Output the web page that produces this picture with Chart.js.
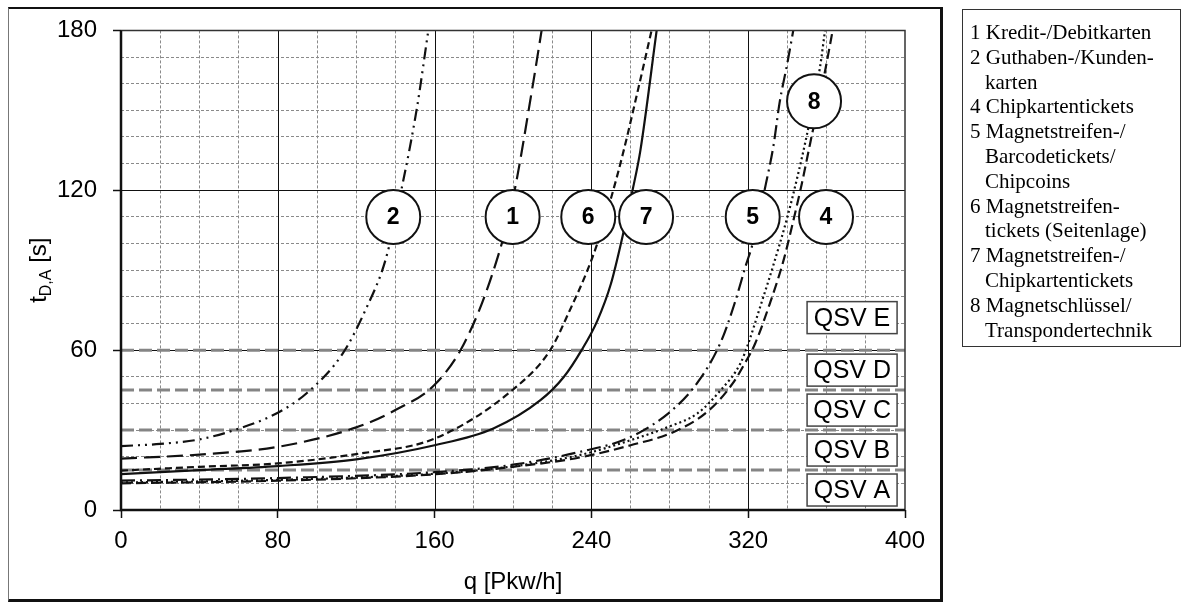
<!DOCTYPE html>
<html>
<head>
<meta charset="utf-8">
<script src="https://cdn.jsdelivr.net/npm/chart.js@4.4.0/dist/chart.umd.min.js"></script>
<style>
  html, body { margin: 0; padding: 0; background: #fff; }
  #wrap { position: relative; width: 1183px; height: 608px; overflow: hidden; }
  #frame {
    position: absolute; left: 8px; top: 7px; width: 931px; height: 590px;
    border-left: 1px solid #777; border-top: 2px solid #111;
    border-right: 3px solid #111; border-bottom: 3px solid #111;
  }
  #legend {
    position: absolute; left: 962px; top: 9px; width: 210px; height: 326px;
    border: 1px solid #333; padding: 10px 0 0 7px;
    font-family: "Liberation Serif", "Times New Roman", serif;
    font-size: 21px; line-height: 24.8px; color: #000;
  }
  #legend div { padding-left: 15px; text-indent: -15px; white-space: nowrap; }
  canvas { position: absolute; left: 0; top: 0; }
</style>
</head>
<body>
<div id="wrap">
  <div id="frame"></div>
  <canvas id="chart" width="1183" height="608"></canvas>
  <div id="legend">
    <div>1 Kredit-/Debitkarten</div>
    <div>2 Guthaben-/Kunden-<br>karten</div>
    <div>4 Chipkartentickets</div>
    <div>5 Magnetstreifen-/<br>Barcodetickets/<br>Chipcoins</div>
    <div>6 Magnetstreifen-<br>tickets (Seitenlage)</div>
    <div>7 Magnetstreifen-/<br>Chipkartentickets</div>
    <div>8 Magnetschlüssel/<br>Transpondertechnik</div>
  </div>
</div>
<script>
// curves: q [Pkw/h] -> t [s]
const q1 = [0, 40, 80, 120, 140, 160, 175, 190, 200, 210, 214.6];
const t1 = [19.3, 20.8, 23.7, 31, 37.5, 47, 62.4, 89.8, 117, 159, 180];
const q2 = [0, 20, 40, 60, 80, 95, 113, 125, 135, 143, 151, 156.8];
const t2 = [24, 24.8, 26.5, 30.5, 36.5, 44, 58.6, 75.5, 94, 120, 151, 180];
const q4 = [0, 80, 160, 200, 234, 260, 282, 299, 312, 319, 323.5, 331, 338, 343, 347.3, 351.5, 359.2, 363.1];
const t4 = [10, 11, 13.4, 16.2, 19.7, 24.3, 29.3, 36.8, 47.4, 56, 62.4, 77.4, 93.6, 108.5, 122.3, 137.2, 164.7, 180];
const q5 = [0, 80, 160, 200, 234, 260, 282, 295, 306, 313, 319, 322, 329, 333, 336, 340, 343];
const t5 = [11, 12, 14.2, 17, 21.8, 27.4, 38, 48.7, 63, 77.4, 92.3, 99.2, 122.3, 137.2, 152.8, 167.8, 180];
const q6 = [0, 40, 80, 120, 160, 200, 219, 229, 238, 243, 250, 256, 265, 270.7];
const t6 = [14.8, 16.2, 17.5, 21, 26.8, 45.2, 60, 75, 90, 100, 117, 133.5, 161.6, 180];
const q7 = [0, 40, 80, 120, 160, 190, 214, 226, 235, 243, 250, 256, 261, 265, 273.3];
const t7 = [13.5, 15, 16.5, 19, 24.3, 30.6, 41.2, 50, 60, 71, 85, 103, 120, 135, 180];
const q8 = [0, 80, 160, 200, 234, 260, 280, 294, 306, 316, 320, 326, 333, 340, 345, 350, 356.6, 359.2];
const t8 = [10.3, 11.3, 13.6, 16.4, 20.6, 26.2, 31.4, 36.2, 45, 55, 62.4, 76, 92.3, 110, 124.7, 141, 166, 180];

// level-of-service limits and their labels
const qsvLimits = [15, 30, 45, 60];
const qsvNames = ['QSV A', 'QSV B', 'QSV C', 'QSV D', 'QSV E'];
const qsvLabelT = [7.5, 22.5, 37.5, 52.5, 72.2];
const qsvLabelQ = 373;

// numbered circle markers
const markNames = ['2', '1', '6', '7', '5', '4', '8'];
const markQ = [138.9, 199.8, 238.4, 267.9, 322.3, 359.7, 353.6];
const markT = [110, 110, 110, 110, 110, 110, 153.4];

const qRange = [0, 400];
const tRange = [0, 180];

const pts = (qs, ts) => qs.map((q, i) => ({ x: q, y: ts[i] }));

function curve(qs, ts, dash) {
    return {
        data: pts(qs, ts),
        showLine: true,
        borderColor: '#111',
        borderWidth: 2.2,
        borderDash: dash,
        pointRadius: 0,
        cubicInterpolationMode: 'monotone',
        order: 1
    };
}

const limitSets = qsvLimits.map(v => ({
    data: qRange.map(q => ({ x: q, y: v })),
    showLine: true,
    borderColor: '#858585',
    borderWidth: 3,
    borderDash: [13, 5],
    pointRadius: 0,
    order: 5
}));

const markSet = {
    data: pts(markQ, markT),
    showLine: false,
    pointRadius: 27,
    pointBackgroundColor: '#fff',
    pointBorderColor: '#111',
    pointBorderWidth: 2,
    clip: false,
    order: -1
};

const FONT = '"Liberation Sans", Arial, sans-serif';

const decor = {
    id: 'decor',
    beforeDatasetsDraw(chart) {
        const { ctx, chartArea: a, scales: { x, y } } = chart;
        ctx.save();
        ctx.strokeStyle = '#111';
        ctx.lineWidth = 1;
        ctx.beginPath();
        [80, 160, 240, 320].forEach(v => {
            const px = Math.round(x.getPixelForValue(v)) + 0.5;
            ctx.moveTo(px, a.top); ctx.lineTo(px, a.bottom);
        });
        [60, 120].forEach(v => {
            const py = Math.round(y.getPixelForValue(v)) + 0.5;
            ctx.moveTo(a.left, py); ctx.lineTo(a.right, py);
        });
        ctx.stroke();
        ctx.restore();
    },
    afterDatasetsDraw(chart) {
        const { ctx, chartArea: a, scales: { x, y } } = chart;
        ctx.save();

        // plot border
        ctx.strokeStyle = '#333';
        ctx.lineWidth = 1.5;
        ctx.beginPath();
        ctx.moveTo(a.left, a.top); ctx.lineTo(a.right, a.top); ctx.lineTo(a.right, a.bottom);
        ctx.stroke();
        ctx.strokeStyle = '#111';
        ctx.lineWidth = 2.5;
        ctx.beginPath();
        ctx.moveTo(a.left, a.top); ctx.lineTo(a.left, a.bottom); ctx.lineTo(a.right, a.bottom);
        ctx.stroke();

        // numbers in the circles
        const meta = chart.getDatasetMeta(chart.data.datasets.indexOf(markSet));
        ctx.fillStyle = '#000';
        ctx.font = 'bold 23px ' + FONT;
        ctx.textAlign = 'center';
        ctx.textBaseline = 'middle';
        meta.data.forEach((el, i) => ctx.fillText(markNames[i], el.x, el.y + 1));

        // QSV boxes
        ctx.font = '25px ' + FONT;
        qsvNames.forEach((name, i) => {
            const cx = x.getPixelForValue(qsvLabelQ);
            const cy = y.getPixelForValue(qsvLabelT[i]);
            ctx.fillStyle = '#fff';
            ctx.fillRect(cx - 45, cy - 16, 90, 32);
            ctx.strokeStyle = '#444';
            ctx.lineWidth = 1.5;
            ctx.strokeRect(cx - 45, cy - 16, 90, 32);
            ctx.fillStyle = '#000';
            ctx.fillText(name, cx, cy + 1);
        });

        // axis titles
        ctx.font = '24px ' + FONT;
        ctx.fillText('q [Pkw/h]', (a.left + a.right) / 2, 582);

        ctx.translate(46, (a.top + a.bottom) / 2);
        ctx.rotate(-Math.PI / 2);
        ctx.textAlign = 'left';
        ctx.textBaseline = 'alphabetic';
        const big = '24px ' + FONT, small = '16px ' + FONT;
        ctx.font = big; const w1 = ctx.measureText('t').width;
        ctx.font = small; const w2 = ctx.measureText('D,A').width;
        ctx.font = big; const w3 = ctx.measureText(' [s]').width;
        let sx = -(w1 + w2 + w3) / 2;
        ctx.font = big; ctx.fillText('t', sx, 0); sx += w1;
        ctx.font = small; ctx.fillText('D,A', sx, 5); sx += w2;
        ctx.font = big; ctx.fillText(' [s]', sx, 0);
        ctx.restore();
    }
};

const isMajor = (v, step) => Math.abs(v % step) < 1e-6;

new Chart(document.getElementById('chart'), {
    type: 'scatter',
    data: {
        datasets: [
            curve(q1, t1, [16, 7]),
            curve(q2, t2, [12, 5, 2, 5, 2, 5]),
            curve(q4, t4, [10, 5]),
            curve(q5, t5, [14, 5, 2, 5]),
            curve(q6, t6, [7, 4]),
            curve(q7, t7, []),
            curve(q8, t8, [2, 3]),
            ...limitSets,
            markSet
        ]
    },
    options: {
        responsive: false,
        animation: false,
        events: [],
        layout: { padding: { left: 0, top: 29, right: 278, bottom: 0 } },
        plugins: { legend: { display: false }, tooltip: { enabled: false } },
        scales: {
            x: {
                type: 'linear',
                min: qRange[0], max: qRange[1],
                afterFit: s => { s.height = 98; },
                ticks: {
                    stepSize: 20,
                    autoSkip: false,
                    maxRotation: 0,
                    padding: 9,
                    color: '#000',
                    font: { family: FONT, size: 24 },
                    callback: v => isMajor(v, 80) ? String(v) : ''
                },
                grid: {
                    color: c => isMajor(c.tick.value, 80) ? 'rgba(0,0,0,0)' : '#8a8a8a',
                    tickColor: c => isMajor(c.tick.value, 80) ? '#111' : 'rgba(0,0,0,0)',
                    tickLength: 8,
                    tickWidth: 1.5,
                    lineWidth: 1
                },
                border: { display: false, dash: [3, 2] }
            },
            y: {
                type: 'linear',
                min: tRange[0], max: tRange[1],
                afterFit: s => { s.width = 121; },
                ticks: {
                    stepSize: 10,
                    autoSkip: false,
                    padding: 16,
                    color: '#000',
                    font: { family: FONT, size: 24 },
                    callback: v => isMajor(v, 60) ? String(v) : ''
                },
                grid: {
                    color: c => isMajor(c.tick.value, 60) ? 'rgba(0,0,0,0)' : '#8a8a8a',
                    tickColor: c => isMajor(c.tick.value, 60) ? '#111' : 'rgba(0,0,0,0)',
                    tickLength: 8,
                    tickWidth: 1.5,
                    lineWidth: 1
                },
                border: { display: false, dash: [3, 2] }
            }
        }
    },
    plugins: [decor]
});
</script>
</body>
</html>
